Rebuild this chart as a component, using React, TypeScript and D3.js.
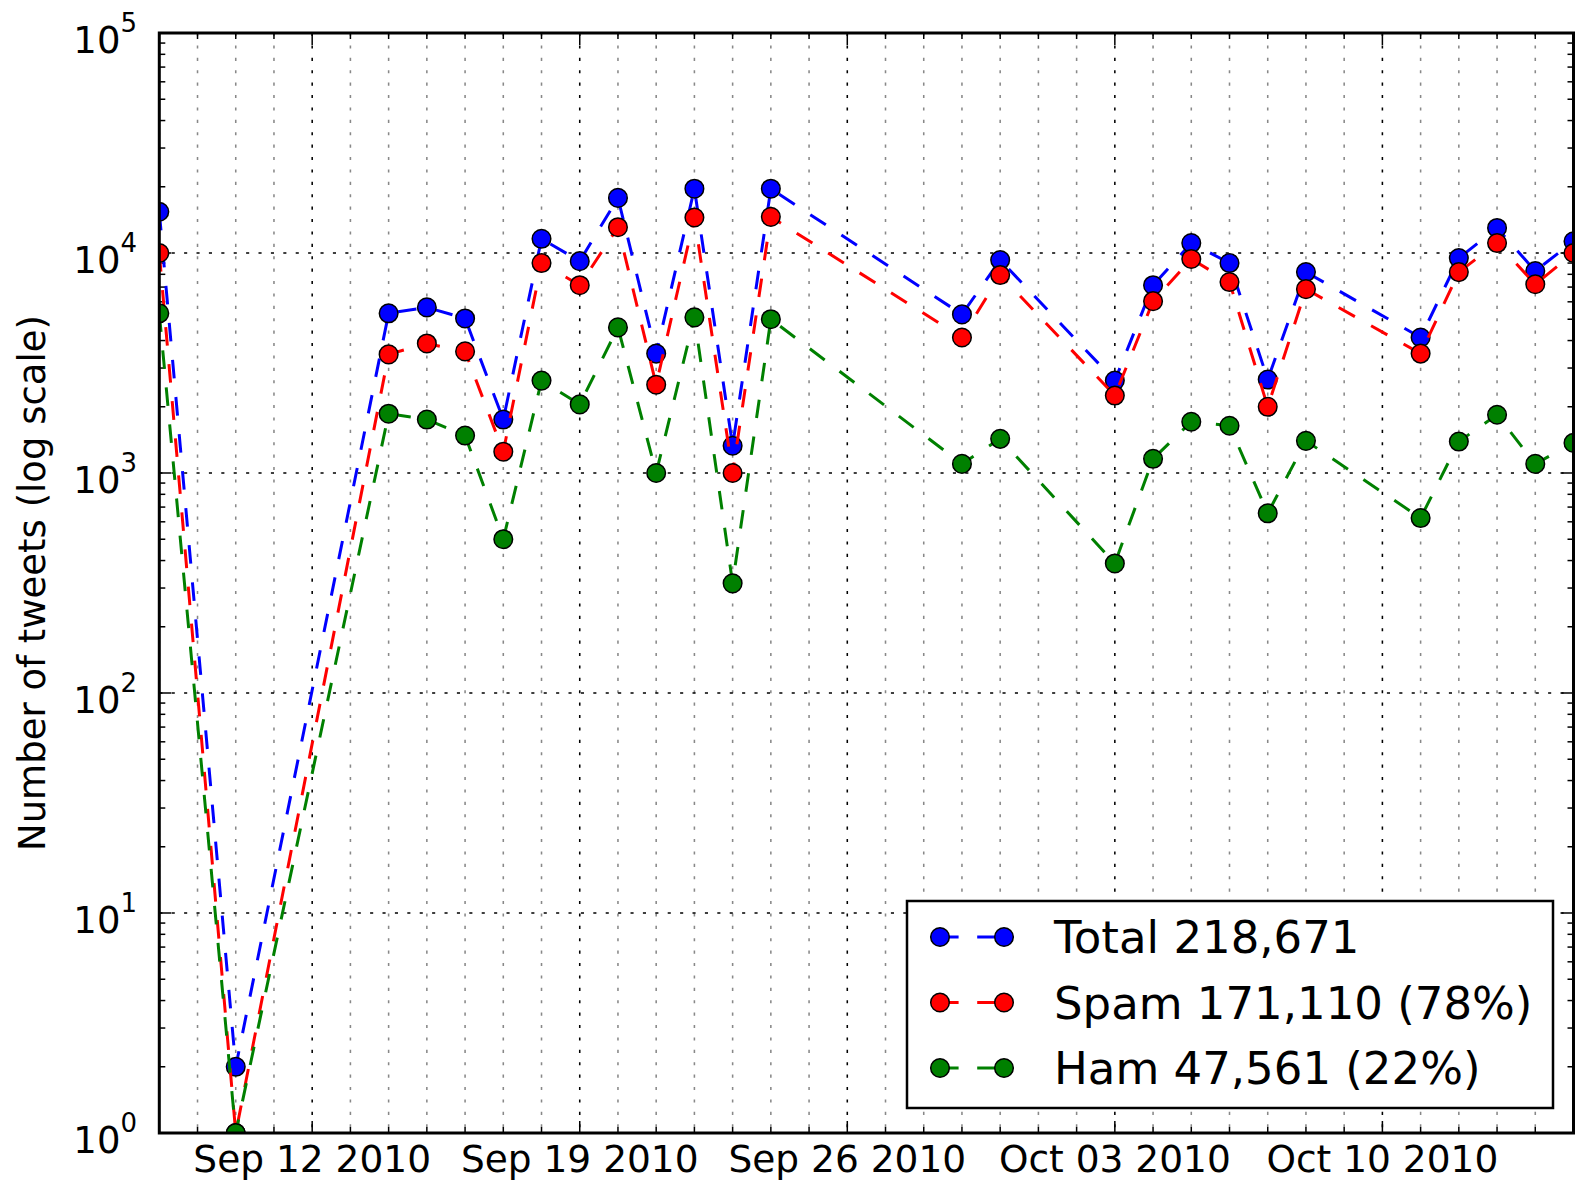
import React from "react";
import * as d3 from "d3";

const dates = [
  "2010-09-08", "2010-09-10", "2010-09-14", "2010-09-15", "2010-09-16", "2010-09-17",
  "2010-09-18", "2010-09-19", "2010-09-20", "2010-09-21", "2010-09-22", "2010-09-23",
  "2010-09-24", "2010-09-29", "2010-09-30", "2010-10-03", "2010-10-04", "2010-10-05",
  "2010-10-06", "2010-10-07", "2010-10-08", "2010-10-11", "2010-10-12", "2010-10-13",
  "2010-10-14", "2010-10-15",
];
const totalValues = [
  15400, 2, 5320, 5660, 5040, 1750, 11600, 9180, 17800, 3490, 19600, 1330, 19600,
  5260, 9290, 2630, 7140, 11100, 9000, 2660, 8190, 4130, 9480, 13000, 8280, 11300,
];
const spamValues = [
  10000, 1, 3460, 3880, 3570, 1250, 9000, 7140, 13100, 2520, 14500, 1000, 14600,
  4130, 7940, 2250, 6040, 9390, 7380, 2000, 6850, 3490, 8190, 11100, 7210, 10000,
];
const hamValues = [
  5320, 1, 1860, 1750, 1480, 500, 2630, 2050, 4590, 1000, 5100, 315, 5000,
  1100, 1430, 388, 1160, 1710, 1640, 656, 1400, 624, 1390, 1840, 1100, 1370,
];
const seriesNames = ["Total 218,671", "Spam 171,110 (78%)", "Ham 47,561 (22%)"];
const seriesColors = ["#0000ff", "#ff0000", "#008000"];
const xDomain = ["2010-09-08", "2010-10-15"];
const yDomain = [1, 100000];
const yLabel = "Number of tweets (log scale)";

const W = 1575, H = 1182;
const L = 159.3, R = 1573.5, T = 33, B = 1133;
const FONT = "DejaVu Sans";

export default function App() {
  const parse = d3.utcParse("%Y-%m-%d");
  const x = d3.scaleUtc().domain(xDomain.map((d) => parse(d)!)).range([L, R]);
  const y = d3.scaleLog().domain(yDomain).range([B, T]);
  const fmt = d3.utcFormat("%b %d %Y");

  const days = d3.utcDay.range(x.domain()[0], d3.utcDay.offset(x.domain()[1], 1));
  const majors = d3.utcSunday.range(x.domain()[0], d3.utcDay.offset(x.domain()[1], 1));
  const majorSet = new Set(majors.map((d) => +d));
  const decades = d3.range(0, 6).map((e) => Math.pow(10, e));
  const minorY: number[] = [];
  for (let e = 0; e < 5; e++) for (let k = 2; k <= 9; k++) minorY.push(k * Math.pow(10, e));

  const series = [totalValues, spamValues, hamValues].map((vals, i) => ({
    name: seriesNames[i],
    color: seriesColors[i],
    pts: vals.map((v, j) => ({ d: parse(dates[j])!, v })),
  }));
  const line = d3
    .line<{ d: Date; v: number }>()
    .x((p) => x(p.d))
    .y((p) => y(p.v));

  const dash = "18.6,18.6";
  const legX = 907, legY = 901, legW = 646, legH = 207;

  return (
    <svg width={W} height={H} style={{ position: "absolute", left: 0, top: 0, background: "#fff" }} fontFamily={FONT}>
      <defs>
        <clipPath id="plotclip">
          <rect x={L} y={T} width={R - L} height={B - T} />
        </clipPath>
      </defs>
      <rect x={0} y={0} width={W} height={H} fill="#fff" />
      {/* grid */}
      {days.map((d, i) => (
        <line key={"vg" + i} x1={x(d)} x2={x(d)} y1={T} y2={B}
          stroke={majorSet.has(+d) ? "#000" : "#888"} strokeWidth={1.55} strokeDasharray="3.1,9.3" />
      ))}
      {decades.slice(1, 5).map((v, i) => (
        <line key={"hg" + i} x1={L} x2={R} y1={y(v)} y2={y(v)} stroke="#000" strokeWidth={1.55} strokeDasharray="3.1,9.3" />
      ))}
      {/* ticks */}
      {days.map((d, i) => {
        const len = majorSet.has(+d) ? 12 : 6;
        return (
          <g key={"xt" + i} stroke="#000" strokeWidth={1.5}>
            <line x1={x(d)} x2={x(d)} y1={B} y2={B - len} />
            <line x1={x(d)} x2={x(d)} y1={T} y2={T + len} />
          </g>
        );
      })}
      {decades.map((v, i) => (
        <g key={"yt" + i} stroke="#000" strokeWidth={1.5}>
          <line x1={L} x2={L + 12} y1={y(v)} y2={y(v)} />
          <line x1={R} x2={R - 12} y1={y(v)} y2={y(v)} />
        </g>
      ))}
      {minorY.map((v, i) => (
        <g key={"ymt" + i} stroke="#000" strokeWidth={1.5}>
          <line x1={L} x2={L + 6} y1={y(v)} y2={y(v)} />
          <line x1={R} x2={R - 6} y1={y(v)} y2={y(v)} />
        </g>
      ))}
      {/* series */}
      <g clipPath="url(#plotclip)">
        {series.map((s, i) => (
          <g key={"s" + i}>
            <path d={line(s.pts)!} fill="none" stroke={s.color} strokeWidth={3} strokeDasharray={dash} />
            {s.pts.map((p, j) => (
              <circle key={j} cx={x(p.d)} cy={y(p.v)} r={9.3} fill={s.color} stroke="#000" strokeWidth={1.5} />
            ))}
          </g>
        ))}
      </g>
      {/* frame */}
      <rect x={L} y={T} width={R - L} height={B - T} fill="none" stroke="#000" strokeWidth={3} />
      {/* tick labels */}
      {majors.map((d, i) => (
        <text key={"xl" + i} x={x(d)} y={B + 39} textAnchor="middle" fontSize={37.5} fill="#000">
          {fmt(d)}
        </text>
      ))}
      {decades.map((v, i) => (
        <text key={"yl" + i} x={137} y={y(v) + 20} textAnchor="end" fontSize={37} fill="#000">
          <tspan>10</tspan>
          <tspan dy={-21} fontSize={26}>{String(Math.round(Math.log10(v)))}</tspan>
        </text>
      ))}
      <text transform={`translate(45, ${(T + B) / 2}) rotate(-90)`} textAnchor="middle" fontSize={37} fill="#000">
        {yLabel}
      </text>
      {/* legend */}
      <rect x={legX} y={legY} width={legW} height={legH} fill="#fff" stroke="#000" strokeWidth={2.5} />
      {series.map((s, i) => {
        const cy = 937 + i * 65.5;
        return (
          <g key={"lg" + i}>
            <line x1={940} x2={1004} y1={cy} y2={cy} stroke={s.color} strokeWidth={3} strokeDasharray={dash} />
            <circle cx={940} cy={cy} r={9.3} fill={s.color} stroke="#000" strokeWidth={1.5} />
            <circle cx={1004} cy={cy} r={9.3} fill={s.color} stroke="#000" strokeWidth={1.5} />
            <text x={1054} y={cy + 16} fontSize={45} fill="#000">{s.name}</text>
          </g>
        );
      })}
    </svg>
  );
}
